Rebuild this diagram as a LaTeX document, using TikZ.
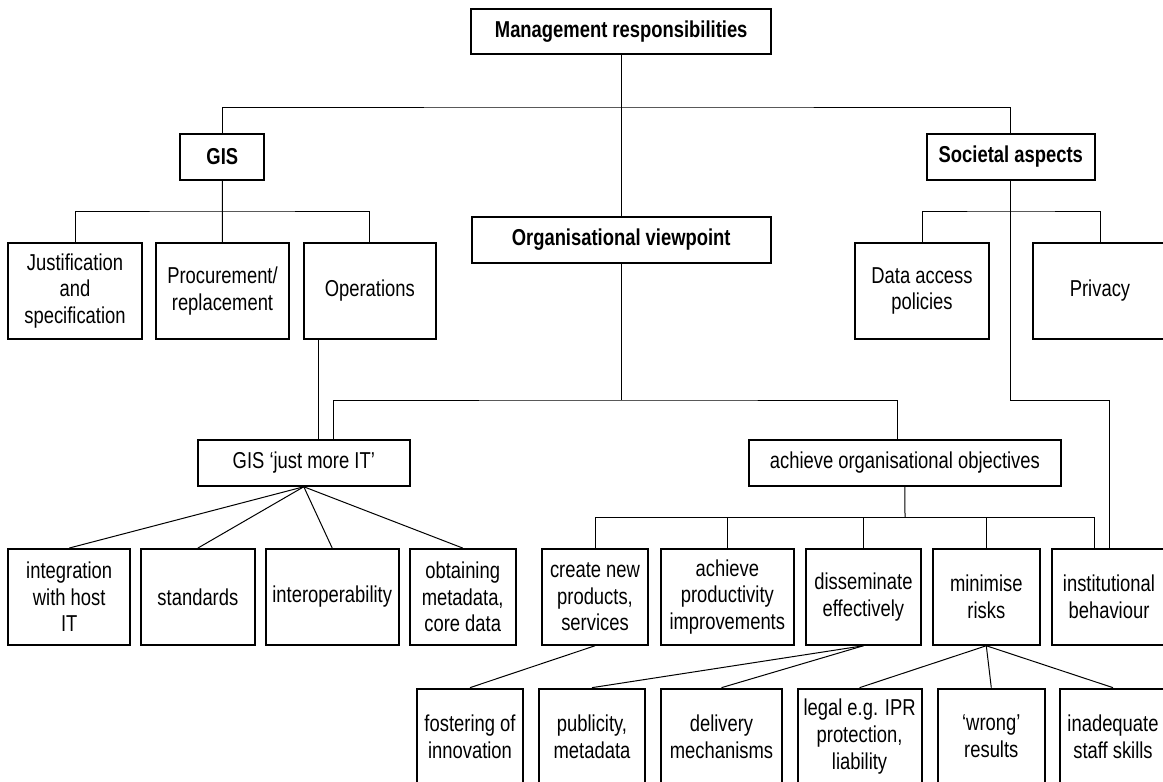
\documentclass[tikz,border=0pt]{standalone}
\usepackage{fontspec}
\setmainfont{Liberation Sans}[FakeStretch=0.80]
\usepackage{tikz}

\tikzset{
  box/.style={draw, line width=2pt, align=center, inner sep=2pt,
    font=\fontsize{23}{26.7}\selectfont},
  flatbox/.style={box, minimum height=45.7pt},
  tallbox/.style={box, minimum height=95.7pt},
  link/.style={line width=1pt},
}

\begin{document}
\begin{tikzpicture}[x=1pt, y=-1pt]
    \useasboundingbox (0,0) rectangle (1163,782);
    \clip (0,0) rectangle (1163,782);

    % Top levels
    \node[flatbox, minimum width=299.5pt] (mgmt) at (621.2,31.5) {\bfseries Management responsibilities};
    \node[flatbox, minimum width=84pt] (gis) at (222.3,156.7) {\bfseries GIS};
    \node[flatbox, minimum width=167.6pt] (soc) at (1010.8,156.7) {\bfseries Societal aspects};
    \node[flatbox, minimum width=299.3pt] (org) at (621.2,239.7) {\bfseries Organisational viewpoint};

    % GIS and societal children
    \node[tallbox, minimum width=133.2pt] (just) at (75,290.9) {Justification\\and\\specification};
    \node[tallbox, minimum width=133pt] (proc) at (222.5,290.9) {Procurement/\\replacement};
    \node[tallbox, minimum width=132.5pt] (oper) at (369.8,290.9) {Operations};
    \node[tallbox, minimum width=134pt] (data) at (922,290.9) {Data access\\policies};
    \node[tallbox, minimum width=134pt] (priv) at (1100,290.9) {Privacy};

    % Second level
    \node[flatbox, minimum width=212.5pt] (gisit) at (303.8,462.9) {GIS ‘just more IT’};
    \node[flatbox, minimum width=311.8pt] (aoo) at (904.9,462.9) {achieve organisational objectives};

    % Middle row
    \node[tallbox, minimum width=121.6pt] (integ) at (69.2,596.9) {integration\\with host\\IT};
    \node[tallbox, minimum width=114pt] (stand) at (197.9,596.9) {standards};
    \node[tallbox, minimum width=133.2pt] (interop) at (332.2,596.9) {interoperability};
    \node[tallbox, minimum width=106.4pt] (obtain) at (462.7,596.9) {obtaining\\metadata,\\core data};
    \node[tallbox, minimum width=106pt] (create) at (595,596.9) {create new\\products,\\services};
    \node[tallbox, minimum width=133pt] (prod) at (727.3,596.9) {achieve\\productivity\\improvements};
    \node[tallbox, minimum width=114.8pt] (dissem) at (863.4,596.9) {disseminate\\effectively};
    \node[tallbox, minimum width=106.6pt] (minim) at (986.3,596.9) {minimise\\risks};
    \node[tallbox, minimum width=114pt] (inst) at (1109,596.9) {institutional\\behaviour};

    % Bottom row
    \node[tallbox, minimum width=106pt] (foster) at (470,736.5) {fostering of\\innovation};
    \node[tallbox, minimum width=106.6pt] (public) at (592,736.5) {publicity,\\metadata};
    \node[tallbox, minimum width=121.5pt] (deliv) at (721.5,736.5) {delivery\\mechanisms};
    \node[tallbox, minimum width=123.8pt] (legal) at (859.6,736.5) {legal e.g. IPR\\protection,\\liability};
    \node[tallbox, minimum width=106.6pt] (wrong) at (991.3,736.5) {‘wrong’\\results};
    \node[tallbox, minimum width=106pt] (inadeq) at (1113,736.5) {inadequate\\staff skills};

    % Bus levels
    \coordinate (topbus) at (621.2,107);
    \coordinate (gisbus) at (222.3,211);
    \coordinate (socbus) at (1010.8,211);
    \coordinate (orgbus) at (621.2,400);
    \coordinate (aoobus) at (905,517.3);

    % Tree connectors
    \draw[link] (gis.north) |- (topbus) -| (soc.north);
    \draw[link] (mgmt) -- (org);
    \draw[link] (gis) -- (proc);
    \draw[link] (just.north) |- (gisbus) -| (oper.north);
    \draw[link] (data.north) |- (socbus) -| (priv.north);
    \draw[link] (soc.south) |- (inst.north |- orgbus) -- (inst.north);
    \draw[link] (org) -- (orgbus);
    \draw[link] ([xshift=30pt]gisit.north) |- (orgbus) -| ([xshift=-7.6pt]aoo.north);
    \draw[link] ([xshift=-51pt]oper.south) -- ([xshift=-51pt]oper.south |- gisit.north);
    \draw[link] (aoo) -- (aoobus);
    \draw[link] (create.north) |- (aoobus) -| ([xshift=-15pt]inst.north);
    \foreach \n in {prod, dissem, minim}
        \draw[link] (\n.north) -- (\n.north |- aoobus);

    % Fans
    \foreach \n in {integ, stand, interop, obtain}
        \draw[link] (gisit.south) -- (\n.north);
    \draw[link] (create.south) -- (foster.north);
    \draw[link] (dissem.south) -- (public.north);
    \draw[link] (dissem.south) -- (deliv.north);
    \foreach \n in {legal, wrong, inadeq}
        \draw[link] (minim.south) -- (\n.north);

\end{tikzpicture}
\end{document}
